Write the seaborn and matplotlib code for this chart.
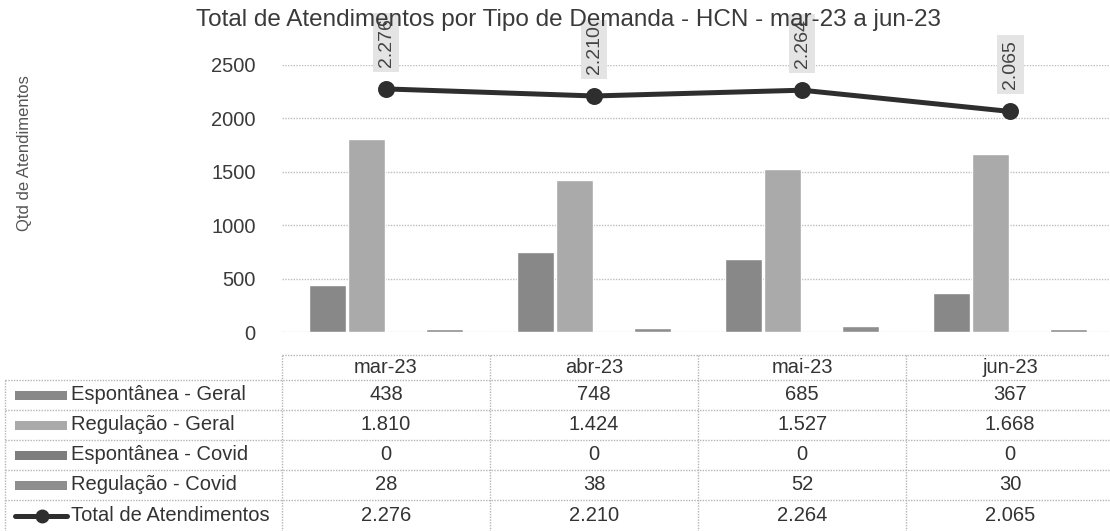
import matplotlib
matplotlib.use("Agg")
import matplotlib.pyplot as plt
import matplotlib.transforms as mtransforms
from matplotlib.lines import Line2D
from matplotlib.patches import Rectangle
import seaborn as sns
import pandas as pd
import numpy as np

# ---------------- data ----------------
meses = ["mar-23", "abr-23", "mai-23", "jun-23"]
espontanea_geral = [438, 748, 685, 367]
regulacao_geral = [1810, 1424, 1527, 1668]
espontanea_covid = [0, 0, 0, 0]
regulacao_covid = [28, 38, 52, 30]
total_atendimentos = [2276, 2210, 2264, 2065]
series_nomes = ["Espontânea - Geral", "Regulação - Geral",
                "Espontânea - Covid", "Regulação - Covid"]
linha_nome = "Total de Atendimentos"
titulo = "Total de Atendimentos por Tipo de Demanda - HCN - mar-23 a jun-23"
ylabel = "Qtd de Atendimentos"
yticks = [0, 500, 1000, 1500, 2000, 2500]

cores = {"Espontânea - Geral": "#888888", "Regulação - Geral": "#aaaaaa",
         "Espontânea - Covid": "#7e7e7e", "Regulação - Covid": "#8e8e8e"}
cor_linha = "#2e2e2e"

def fmt(v):
    return f"{v:,}".replace(",", ".")

df = pd.DataFrame({
    "mes": meses * 4,
    "serie": [s for s in series_nomes for _ in meses],
    "valor": espontanea_geral + regulacao_geral + espontanea_covid + regulacao_covid,
})
df_tot = pd.DataFrame({"mes": meses, "total": total_atendimentos})

# ---------------- figure ----------------
sns.set_theme(style="white")
plt.rcParams["font.family"] = ["Liberation Sans", "DejaVu Sans"]

W, H = 1110, 531
fig = plt.figure(figsize=(W / 100, H / 100), dpi=100)
fig.patch.set_facecolor("white")

def fy(y):
    return 1 - y / H

ax_left, ax_right, ax_top, ax_bottom = 282, 1110, 65, 332
ax = fig.add_axes([ax_left / W, fy(ax_bottom), (ax_right - ax_left) / W,
                   (ax_bottom - ax_top) / H])
ax.set_facecolor("white")

sns.barplot(data=df, x="mes", y="valor", hue="serie", hue_order=series_nomes,
            order=meses, palette=cores, width=0.75, gap=0.05, saturation=1,
            legend=False, ax=ax, errorbar=None, zorder=3)

sns.pointplot(data=df_tot, x="mes", y="total", order=meses, color=cor_linha,
              markers="o", markersize=9.5, linewidth=3.6, ax=ax, zorder=5,
              errorbar=None)

ax.set_ylim(0, 2500)
ax.set_xlim(-0.5, 3.48)
ax.set_yticks(yticks)
ax.set_yticklabels([str(t) for t in yticks])
ax.tick_params(axis="y", length=0, pad=19, labelsize=14.5, labelcolor="#3a3a3a")
ax.tick_params(axis="x", length=0, labelbottom=False)
ax.set_xlabel("")
ax.set_ylabel("")
for s in ax.spines.values():
    s.set_visible(False)
ax.grid(axis="y", color="#bdbdbd", linestyle=(0, (1, 1)), linewidth=1.0, zorder=0)
ax.set_axisbelow(True)

# data labels on the line
for i, v in enumerate(total_atendimentos):
    ax.annotate(fmt(v), xy=(i, v), xytext=(0, 16), textcoords="offset points",
                rotation=90, ha="center", va="bottom", fontsize=14,
                color="#444444", annotation_clip=False, zorder=6,
                bbox=dict(boxstyle="square,pad=0.25", facecolor="#e4e4e4",
                          edgecolor="none"))

# title and y label
fig.text(568 / W, fy(20), titulo, ha="center", va="center", fontsize=17.5,
         color="#3a3a3a", zorder=10)
fig.text(25 / W, fy(153), ylabel, ha="center", va="center", rotation=90,
         fontsize=12, color="#555555")

# ---------------- data table ----------------
trans = mtransforms.blended_transform_factory(ax.transData, fig.transFigure)
ftrans = fig.transFigure
grid_kw = dict(color="#b5b5b5", linestyle=(0, (1, 1)), linewidth=1.0)

row_edges = [355, 380, 410, 440, 470, 500, 533]
row_labels = series_nomes + [linha_nome]
row_values = [espontanea_geral, regulacao_geral, espontanea_covid,
              regulacao_covid, total_atendimentos]
tab_left = 5

# horizontal lines
fig.add_artist(Line2D([ax_left / W, 1], [fy(row_edges[0])] * 2,
                      transform=ftrans, **grid_kw))
for y in row_edges[1:]:
    fig.add_artist(Line2D([tab_left / W, 1], [fy(y)] * 2, transform=ftrans,
                          **grid_kw))
# vertical lines
fig.add_artist(Line2D([tab_left / W] * 2, [fy(row_edges[1]), fy(row_edges[-1])],
                      transform=ftrans, **grid_kw))
for i in range(len(meses) + 1):
    fig.add_artist(Line2D([i - 0.5] * 2, [fy(row_edges[0]), fy(row_edges[-1])],
                          transform=trans, **grid_kw))

txt_kw = dict(fontsize=14.5, color="#333333", va="center")
# header
for i, m in enumerate(meses):
    fig.text(i, fy((row_edges[0] + row_edges[1]) / 2), m, ha="center",
             transform=trans, **txt_kw)
# rows
for r, (lab, vals) in enumerate(zip(row_labels, row_values)):
    yc = fy((row_edges[r + 1] + min(row_edges[r + 2], 531)) / 2)
    fig.text(71 / W, yc, lab, ha="left", transform=ftrans, **txt_kw)
    for i, v in enumerate(vals):
        fig.text(i, yc, fmt(v), ha="center", transform=trans, **txt_kw)
    # legend keys
    if lab in cores:
        fig.add_artist(Rectangle((15 / W, yc - 4.5 / H), 52 / W, 9 / H,
                                 transform=ftrans, facecolor=cores[lab],
                                 edgecolor="none"))
    else:
        fig.add_artist(Line2D([15 / W, 67 / W], [yc, yc], transform=ftrans,
                              color=cor_linha, linewidth=3.6))
        fig.add_artist(Line2D([42 / W], [yc], transform=ftrans, marker="o",
                              markersize=9, color=cor_linha, linestyle="none"))

fig.savefig("out.png", dpi=100, facecolor="white")
